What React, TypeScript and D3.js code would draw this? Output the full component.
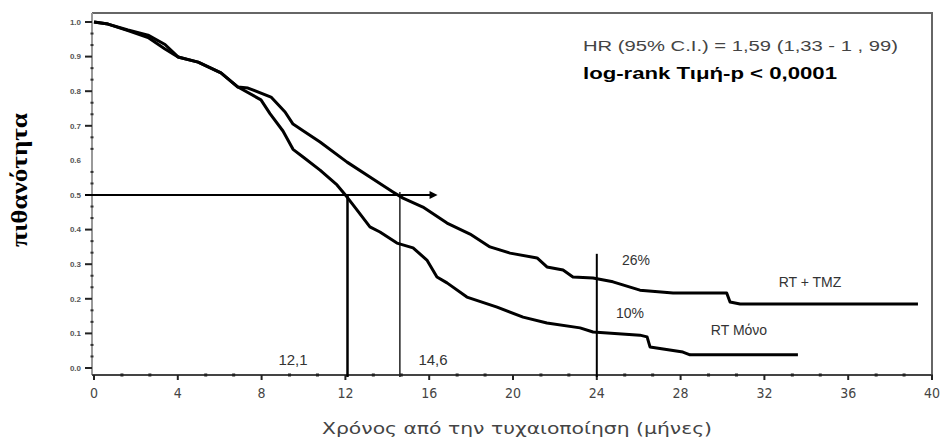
import React from 'react';
import { scaleLinear, line, range } from 'd3';

// months after randomisation, survival probability
const tmzMonths = [0, 0.67, 1.62, 2.58, 3.39, 4.01, 4.97, 6.06, 6.87, 7.35, 8.45, 9.12, 9.5, 9.98, 10.79, 12.08, 13.17, 14.27, 14.75, 15.7, 16.85, 17.95, 18.9, 19.86, 21.15, 21.62, 22.39, 22.86, 23.82, 24.77, 26.06, 27.64, 30.2, 30.36, 30.84, 39.33];
const tmzSurvival = [1.0, 0.994, 0.977, 0.962, 0.935, 0.899, 0.884, 0.853, 0.812, 0.809, 0.783, 0.74, 0.705, 0.686, 0.653, 0.595, 0.552, 0.509, 0.491, 0.465, 0.419, 0.387, 0.35, 0.332, 0.318, 0.292, 0.283, 0.263, 0.26, 0.249, 0.225, 0.217, 0.217, 0.191, 0.185, 0.185];

const rtMonths = [0, 0.67, 1.62, 2.58, 3.39, 4.01, 4.97, 6.06, 6.87, 7.97, 8.4, 9.02, 9.5, 9.98, 10.79, 11.6, 12.08, 12.55, 13.17, 13.65, 14.46, 15.23, 15.89, 16.37, 16.85, 17.8, 19.24, 20.48, 21.62, 23.2, 23.82, 26.06, 26.4, 26.54, 28.11, 28.45, 33.6];
const rtSurvival = [1.0, 0.994, 0.975, 0.955, 0.922, 0.899, 0.884, 0.853, 0.812, 0.775, 0.735, 0.685, 0.632, 0.61, 0.572, 0.529, 0.494, 0.457, 0.408, 0.393, 0.361, 0.347, 0.312, 0.263, 0.246, 0.205, 0.176, 0.147, 0.13, 0.116, 0.104, 0.095, 0.09, 0.061, 0.046, 0.038, 0.038];

const xTicks = [0, 4, 8, 12, 16, 20, 24, 28, 32, 36, 40];
const yTicks = [0, 0.1, 0.2, 0.3, 0.4, 0.5, 0.6, 0.7, 0.8, 0.9, 1.0];
const yTickLabels = ['0.0', '0.1', '0.2', '0.3', '0.4', '0.5', '0.6', '0.7', '0.8', '0.9', '1.0'];

const medianMonths = [12.1, 14.6];
const medianLabels = ['12,1', '14,6'];
const landmarkMonth = 24;
const landmarkLabels = ['26%', '10%'];
const seriesNames = ['RT + TMZ', 'RT Μόνο'];
const statsLines = ['HR (95% C.I.) = 1,59 (1,33 - 1 , 99)', 'log-rank Τιμή-p < 0,0001'];

const width = 940;
const height = 439;
const sans = '"Liberation Sans", Arial, sans-serif';
const narrow = '"DejaVu Sans Condensed", "Liberation Sans", sans-serif';

const App = () => {
  const left = 92;
  const top = 13;
  const right = 932;
  const axisY = 375;

  const xScale = scaleLinear().domain([0, 40]).range([94, right]);
  const yScale = scaleLinear().domain([0, 1]).range([368, 22]);

  const kmLine = line<[number, number]>()
    .x(d => xScale(d[0]))
    .y(d => yScale(d[1]));

  const tmzPath = kmLine(tmzMonths.map((m, i) => [m, tmzSurvival[i]]));
  const rtPath = kmLine(rtMonths.map((m, i) => [m, rtSurvival[i]]));

  const xMinor = range(0, 40.01, 4 / 3).filter((_, i) => i % 3 !== 0);
  const yMinor = range(0, 1.001, 0.1 / 3).filter((_, i) => i % 3 !== 0);

  const arrowEnd = xScale(16.4);
  const halfY = yScale(0.5);

  return (
    <svg
      width={width}
      height={height}
      style={{ position: 'absolute', left: 0, top: 0, background: 'white' }}
    >
      {/* frame */}
      <path d={`M ${left} ${top} H ${right} V ${axisY}`} fill="none" stroke="#666" strokeWidth={2} />
      <path d={`M ${left} ${top} V ${axisY}`} stroke="#999" strokeWidth={2} />
      <path d={`M ${left} ${axisY} H ${right + 1}`} stroke="#444" strokeWidth={2} />

      {/* y axis */}
      {yMinor.map((v, i) => (
        <rect key={'ym' + i} x={left - 1.5} y={yScale(v) - 1} width={3} height={2} fill="#333" />
      ))}
      {yTicks.map((v, i) => (
        <g key={'y' + i} transform={`translate(0, ${yScale(v)})`}>
          {v !== 0.6 && <line x1={left - 7} x2={left} stroke="#222" strokeWidth={2} />}
          <text
            x={81}
            dy="0.35em"
            style={{ fontSize: '8px', fontFamily: sans, fontWeight: 'bold', textAnchor: 'end', fill: '#555' }}
          >
            {yTickLabels[i]}
          </text>
        </g>
      ))}

      {/* x axis */}
      {xMinor.map((v, i) => (
        <rect key={'xm' + i} x={xScale(v) - 1.5} y={axisY - 1.5} width={3} height={3} fill="#222" />
      ))}
      {xTicks.map(v => (
        <g key={'x' + v} transform={`translate(${xScale(v)}, 0)`}>
          <line y1={axisY} y2={axisY + 5} stroke="#222" strokeWidth={2} />
          <text
            y={398}
            style={{ fontSize: '14px', fontFamily: narrow, textAnchor: 'middle', fill: '#444' }}
          >
            {v}
          </text>
        </g>
      ))}

      {/* median guides */}
      <line x1={left - 7} x2={arrowEnd - 6} y1={halfY} y2={halfY} stroke="#000" strokeWidth={2} />
      <path d={`M ${arrowEnd} ${halfY} L ${arrowEnd - 8} ${halfY - 4} L ${arrowEnd - 8} ${halfY + 4} Z`} fill="#000" />
      <line x1={xScale(medianMonths[0])} x2={xScale(medianMonths[0])} y1={halfY} y2={axisY + 2} stroke="#000" strokeWidth={2.5} />
      <line x1={xScale(medianMonths[1])} x2={xScale(medianMonths[1])} y1={halfY - 3} y2={axisY + 2} stroke="#222" strokeWidth={1.5} />
      <line x1={xScale(landmarkMonth)} x2={xScale(landmarkMonth)} y1={yScale(0.33)} y2={axisY + 2} stroke="#000" strokeWidth={2} />

      {/* curves */}
      <path d={tmzPath} fill="none" stroke="#000" strokeWidth={3} strokeLinejoin="round" />
      <path d={rtPath} fill="none" stroke="#000" strokeWidth={3} strokeLinejoin="round" />

      {/* annotations */}
      <text x={293} y={365} style={{ fontSize: '15px', fontFamily: sans, textAnchor: 'middle', fill: '#333' }}>{medianLabels[0]}</text>
      <text x={433} y={365} style={{ fontSize: '15px', fontFamily: sans, textAnchor: 'middle', fill: '#333' }}>{medianLabels[1]}</text>
      <text x={636} y={265} style={{ fontSize: '14px', fontFamily: sans, textAnchor: 'middle', fill: '#333' }}>{landmarkLabels[0]}</text>
      <text x={630} y={318} style={{ fontSize: '14px', fontFamily: sans, textAnchor: 'middle', fill: '#333' }}>{landmarkLabels[1]}</text>
      <text x={810} y={287} style={{ fontSize: '14px', fontFamily: sans, textAnchor: 'middle', fill: '#333' }}>{seriesNames[0]}</text>
      <text x={739} y={335} style={{ fontSize: '14px', fontFamily: sans, textAnchor: 'middle', fill: '#333' }}>{seriesNames[1]}</text>

      <text x={583} y={51} textLength={315} lengthAdjust="spacingAndGlyphs" style={{ fontSize: '15px', fontFamily: sans, fill: '#444' }}>{statsLines[0]}</text>
      <text x={583} y={79} textLength={254} lengthAdjust="spacingAndGlyphs" style={{ fontSize: '16px', fontFamily: sans, fontWeight: 'bold', fill: '#000' }}>{statsLines[1]}</text>

      {/* axis titles */}
      <text
        transform={`translate(27, 180) rotate(-90)`}
        textLength={134}
        lengthAdjust="spacingAndGlyphs"
        style={{ fontSize: '23px', fontFamily: '"Liberation Serif", "Times New Roman", serif', fontWeight: 'bold', textAnchor: 'middle', fill: '#000' }}
      >
        πιθανότητα
      </text>
      <text
        x={517}
        y={434}
        textLength={390}
        lengthAdjust="spacingAndGlyphs"
        style={{ fontSize: '16px', fontFamily: narrow, textAnchor: 'middle', fill: '#444' }}
      >
        Χρόνος από την τυχαιοποίηση (μήνες)
      </text>
    </svg>
  );
};

export default App;
